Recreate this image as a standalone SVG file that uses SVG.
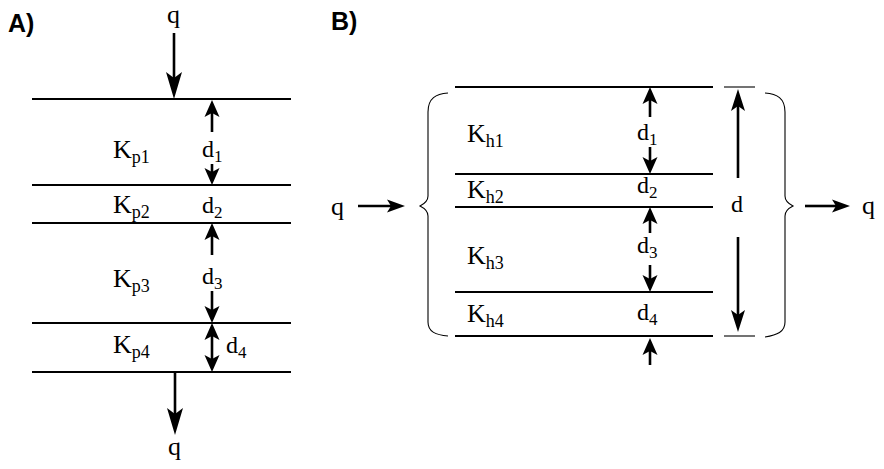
<svg xmlns="http://www.w3.org/2000/svg" width="884" height="469" viewBox="0 0 884 469">
<style>
.s{font-family:"Liberation Serif","Times New Roman","DejaVu Serif",serif;fill:#000}
.lbl{font-family:"Liberation Sans",Arial,"DejaVu Sans",sans-serif;font-weight:bold;font-size:25px;fill:#000}
.K{font-size:26px}
.d{font-size:24px}
.q{font-size:26px}
.layer{stroke:#000;stroke-width:2.2;fill:none}
.stem{stroke:#000;stroke-width:2.6;fill:none}
.thin{stroke:#000;stroke-width:1.1;fill:none}
</style>
<defs>
<marker id="big" markerUnits="userSpaceOnUse" markerWidth="30" markerHeight="20" refX="6" refY="0" orient="auto" overflow="visible"><path d="M0,-8 L27,0 L0,8 L6,0 z" fill="#000"/></marker>
<marker id="med" markerUnits="userSpaceOnUse" markerWidth="24" markerHeight="14" refX="5" refY="0" orient="auto" overflow="visible"><path d="M0,-7 L22,0 L0,7 L5,0 z" fill="#000"/></marker>
<marker id="sm" markerUnits="userSpaceOnUse" markerWidth="18" markerHeight="16" refX="4" refY="0" orient="auto-start-reverse" overflow="visible"><path d="M0,-7.5 L17,0 L0,7.5 L4,0 z" fill="#000"/></marker>
<marker id="hq" markerUnits="userSpaceOnUse" markerWidth="18" markerHeight="14" refX="4" refY="0" orient="auto" overflow="visible"><path d="M0,-6.5 L18,0 L0,6.5 L4,0 z" fill="#000"/></marker>
</defs>

<text class="lbl" x="8" y="32">A)</text>
<text class="lbl" x="331" y="30">B)</text>

<g id="panelA-layers">
<line class="layer" x1="32" y1="99" x2="291" y2="99"/>
<line class="layer" x1="32" y1="185" x2="291" y2="185"/>
<line class="layer" x1="32" y1="223" x2="291" y2="223"/>
<line class="layer" x1="32" y1="323" x2="291" y2="323"/>
<line class="layer" x1="32" y1="372" x2="291" y2="372"/>
</g>
<g id="Kp1"><text class="s K" font-family="Liberation Serif, serif" x="113" y="158">K<tspan font-size="18" dy="5">p1</tspan></text></g>
<g id="Kp2"><text class="s K" font-family="Liberation Serif, serif" x="113" y="213">K<tspan font-size="18" dy="5">p2</tspan></text></g>
<g id="Kp3"><text class="s K" font-family="Liberation Serif, serif" x="113" y="287">K<tspan font-size="18" dy="5">p3</tspan></text></g>
<g id="Kp4"><text class="s K" font-family="Liberation Serif, serif" x="113" y="353">K<tspan font-size="18" dy="5">p4</tspan></text></g>
<g id="dA">
<text class="s d" font-family="Liberation Serif, serif" x="202" y="157">d<tspan font-size="17" dy="5">1</tspan></text>
<text class="s d" font-family="Liberation Serif, serif" x="202" y="213">d<tspan font-size="17" dy="5">2</tspan></text>
<text class="s d" font-family="Liberation Serif, serif" x="202" y="284">d<tspan font-size="17" dy="5">3</tspan></text>
<text class="s d" font-family="Liberation Serif, serif" x="226" y="353">d<tspan font-size="17" dy="5">4</tspan></text>
</g>
<g id="qA">
<text class="s q" font-family="Liberation Serif, serif" x="167" y="23">q</text>
<text class="s q" font-family="Liberation Serif, serif" x="168" y="455">q</text>
</g>

<g id="panelB-layers">
<line class="layer" x1="455" y1="87" x2="713" y2="87" stroke-width="2.6"/>
<line class="layer" x1="455" y1="174" x2="713" y2="174"/>
<line class="layer" x1="455" y1="207" x2="713" y2="207"/>
<line class="layer" x1="455" y1="292" x2="713" y2="292"/>
<line class="layer" x1="455" y1="336" x2="713" y2="336"/>
<line class="thin" x1="724" y1="87" x2="755" y2="87"/>
<line class="thin" x1="724" y1="336" x2="755" y2="336"/>
</g>
<g id="Kh1"><text class="s K" font-family="Liberation Serif, serif" x="467" y="142">K<tspan font-size="18" dy="5">h1</tspan></text></g>
<g id="Kh2"><text class="s K" font-family="Liberation Serif, serif" x="467" y="198">K<tspan font-size="18" dy="5">h2</tspan></text></g>
<g id="Kh3"><text class="s K" font-family="Liberation Serif, serif" x="467" y="264">K<tspan font-size="18" dy="5">h3</tspan></text></g>
<g id="Kh4"><text class="s K" font-family="Liberation Serif, serif" x="467" y="322">K<tspan font-size="18" dy="5">h4</tspan></text></g>
<g id="dB">
<text class="s d" font-family="Liberation Serif, serif" x="637" y="140">d<tspan font-size="17" dy="5">1</tspan></text>
<text class="s d" font-family="Liberation Serif, serif" x="637" y="193">d<tspan font-size="17" dy="5">2</tspan></text>
<text class="s d" font-family="Liberation Serif, serif" x="637" y="253">d<tspan font-size="17" dy="5">3</tspan></text>
<text class="s d" font-family="Liberation Serif, serif" x="637" y="320">d<tspan font-size="17" dy="5">4</tspan></text>
<text class="s d" font-family="Liberation Serif, serif" x="731" y="212">d</text>
</g>
<g id="qB">
<text class="s q" font-family="Liberation Serif, serif" x="331" y="215">q</text>
<text class="s q" font-family="Liberation Serif, serif" x="862" y="214">q</text>
</g>
<g id="braces">
<path class="thin" d="M448,93 C436,94 428,98 428,112 L428,196 C428,201 424,204 420,206 C424,208 428,211 428,216 L428,322 C428,332 436,335 448,336"/>
<path class="thin" d="M765,93 C777,94 785,98 785,112 L785,196 C785,201 789,204 793,206 C789,208 785,211 785,216 L785,322 C785,332 777,335 765,337"/>
</g>

<g id="connectors">
<line class="stem" x1="174" y1="33" x2="174" y2="78" marker-end="url(#big)"/>
<line class="stem" x1="175" y1="372" x2="175" y2="414" marker-end="url(#big)"/>
<line class="stem" x1="212" y1="132" x2="212" y2="113" marker-end="url(#sm)"/>
<line class="stem" x1="212" y1="164" x2="212" y2="172" marker-end="url(#sm)"/>
<line class="stem" x1="212" y1="255" x2="212" y2="236" marker-end="url(#sm)"/>
<line class="stem" x1="212" y1="291" x2="212" y2="310" marker-end="url(#sm)"/>
<line class="stem" x1="212" y1="336" x2="212" y2="359" marker-start="url(#sm)" marker-end="url(#sm)"/>

<line class="stem" x1="650" y1="117" x2="650" y2="100" marker-end="url(#sm)"/>
<line class="stem" x1="650" y1="147" x2="650" y2="161" marker-end="url(#sm)"/>
<line class="stem" x1="650" y1="233" x2="650" y2="220" marker-end="url(#sm)"/>
<line class="stem" x1="650" y1="265" x2="650" y2="279" marker-end="url(#sm)"/>
<line class="stem" x1="650" y1="365" x2="650" y2="351" marker-end="url(#sm)"/>

<line class="stem" x1="738" y1="178" x2="738" y2="106" marker-end="url(#med)"/>
<line class="stem" x1="738" y1="237" x2="738" y2="315" marker-end="url(#med)"/>

<line class="stem" x1="358" y1="206" x2="391" y2="206" marker-end="url(#hq)"/>
<line class="stem" x1="805" y1="206" x2="836" y2="206" marker-end="url(#hq)"/>
</g>
</svg>
